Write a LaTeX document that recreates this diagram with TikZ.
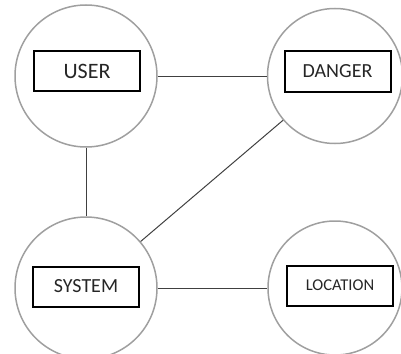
\documentclass[tikz,border=0pt]{standalone}
\usepackage{fontspec}
\setmainfont{Carlito}
\begin{document}
\begin{tikzpicture}[
        x=1pt,
        y=-1pt,
        bolha/.style={
            circle,
            draw=gray!75,
            line width=1.5pt,
            inner sep=0pt
        },
        caixa/.style={
            draw=black,
            line width=2pt,
            minimum width=106pt,
            minimum height=40pt,
            inner sep=0pt,
            text=black!85
        },
        ligacao/.style={
            draw=black!75,
            line width=1pt
        }
    ]

    \useasboundingbox (0,0) rectangle (401,353);

    % Círculos
    \node[bolha, minimum size=142pt] (user) at (86,76) {};
    \node[bolha, minimum size=135pt] (danger) at (335,76) {};
    \node[bolha, minimum size=142pt] (system) at (86,288) {};
    \node[bolha, minimum size=134pt] (location) at (335,288) {};

    % Caixas com os nomes
    \node[caixa, font=\fontsize{22}{26}\selectfont] (userbox) at (87,71) {USER};
    \node[caixa, font=\fontsize{20}{24}\selectfont] (dangerbox) at (337.5,71.5) {DANGER};
    \node[caixa, font=\fontsize{20}{24}\selectfont] (systembox) at (86,286.5) {SYSTEM};
    \node[caixa, font=\fontsize{16.5}{20}\selectfont] (locationbox) at (340,285.5) {LOCATION};

    % Ligações
    \draw[ligacao] (user) -- (danger);
    \draw[ligacao] (user) -- (system);
    \draw[ligacao] (danger) -- (system);
    \draw[ligacao] (system) -- (location);

\end{tikzpicture}
\end{document}
